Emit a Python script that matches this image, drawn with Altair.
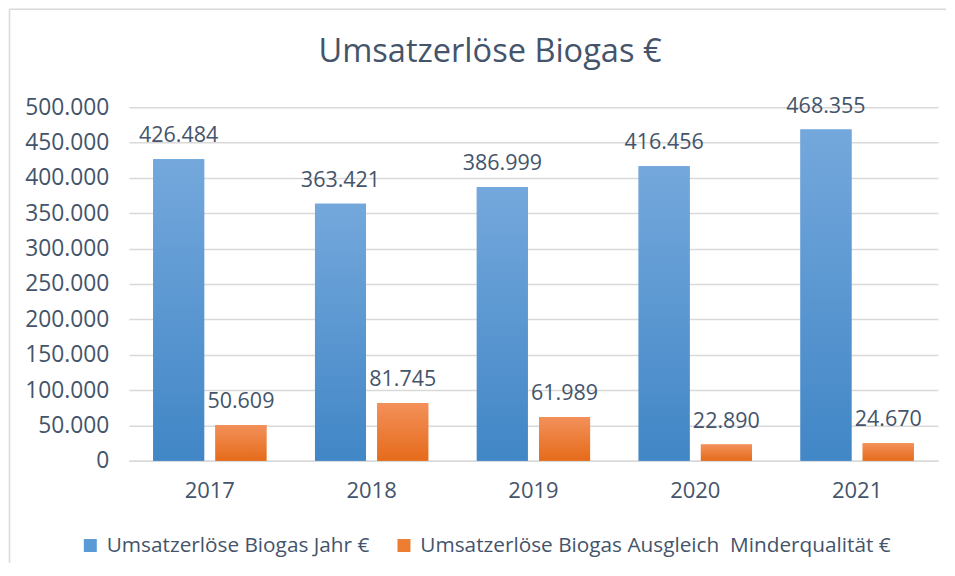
import altair as alt
import pandas as pd

title_text = "Umsatzerlöse Biogas €"
years = ["2017", "2018", "2019", "2020", "2021"]
series_names = [
    "Umsatzerlöse Biogas Jahr €",
    "Umsatzerlöse Biogas Ausgleich\u00a0 Minderqualität €",
]
jahr = [426484, 363421, 386999, 416456, 468355]
ausgleich = [50609, 81745, 61989, 22890, 24670]
y_ticks = list(range(0, 500001, 50000))

rows = []
for i, y in enumerate(years):
    rows.append({"year": y, "series": series_names[0], "value": jahr[i]})
    rows.append({"year": y, "series": series_names[1], "value": ausgleich[i]})
df = pd.DataFrame(rows)

TEXT = "#44546a"
FONT = "Open Sans"

blue_grad = {
    "gradient": "linear", "x1": 0, "y1": 0, "x2": 0, "y2": 1,
    "stops": [{"offset": 0, "color": "#74a8dc"}, {"offset": 1, "color": "#4186c6"}],
}
orange_grad = {
    "gradient": "linear", "x1": 0, "y1": 0, "x2": 0, "y2": 1,
    "stops": [{"offset": 0, "color": "#f3905a"}, {"offset": 1, "color": "#e56b1a"}],
}

x_enc = alt.X(
    "year:N", title=None, sort=years,
    scale=alt.Scale(paddingInner=0.3, paddingOuter=0.15),
    axis=alt.Axis(labelAngle=0, labelFontSize=22, labelColor=TEXT, labelPadding=20,
                  ticks=False, domainColor="#d9d9d9", domainWidth=1.5, labelFont=FONT),
)
xoff = alt.XOffset("series:N", sort=series_names,
                   scale=alt.Scale(domain=series_names, paddingInner=0.18, paddingOuter=0))
y_enc = alt.Y(
    "value:Q", title=None,
    scale=alt.Scale(domain=[0, 500000], nice=False),
    axis=alt.Axis(values=y_ticks, format=",.0f", labelFontSize=22.8, labelColor=TEXT,
                  labelPadding=20, ticks=False, domain=False, gridColor="#d9d9d9",
                  gridWidth=1.5, labelFont=FONT),
)

base = alt.Chart(df)

flat = base.mark_bar().encode(
    x=x_enc, xOffset=xoff, y=y_enc,
    color=alt.Color(
        "series:N", sort=series_names,
        scale=alt.Scale(domain=series_names, range=["#5b9bd5", "#ed7d31"]),
        legend=alt.Legend(
            title=None, orient="none", legendX=-49, legendY=428, direction="horizontal",
            symbolType="square", symbolSize=169, symbolStrokeWidth=0,
            labelFontSize=20.8, labelColor=TEXT, labelFont=FONT, labelLimit=900,
            labelOffset=6, columnPadding=24,
        ),
    ),
)

grad_blue = base.transform_filter(alt.datum.series == series_names[0]).mark_bar(
    fill=blue_grad).encode(x=x_enc, xOffset=xoff, y=y_enc)
grad_orange = base.transform_filter(alt.datum.series == series_names[1]).mark_bar(
    fill=orange_grad).encode(x=x_enc, xOffset=xoff, y=y_enc)

labels = base.mark_text(dy=-17, baseline="alphabetic", fontSize=21.5, color=TEXT,
                        font=FONT).encode(
    x=x_enc, xOffset=xoff, y=y_enc, text=alt.Text("value:Q", format=",.0f"))

single_df = pd.DataFrame({"t": [title_text]})
title_mark = alt.Chart(single_df).mark_text(
    fontSize=32.6, color=TEXT, font=FONT, align="center", baseline="alphabetic"
).encode(x=alt.value(361.5), y=alt.value(-45), text="t:N")

left_rule = alt.Chart(single_df).mark_rule(
    color="#d9d9d9", strokeWidth=1.5, orient="vertical"
).encode(x=alt.value(-119.5), x2=alt.value(-119.5), y=alt.value(-98), y2=alt.value(456))
top_rule = alt.Chart(single_df).mark_rule(
    color="#d9d9d9", strokeWidth=1.5, orient="horizontal"
).encode(x=alt.value(-119.5), x2=alt.value(818), y=alt.value(-98), y2=alt.value(-98))

chart = alt.layer(left_rule, top_rule, title_mark, flat, grad_blue, grad_orange,
                  labels).properties(
    width=810, height=354,
    padding={"left": 0, "top": 0, "right": 0, "bottom": 0},
    background="white",
).configure(
    locale={"number": {"decimal": ",", "thousands": ".", "grouping": [3],
                       "currency": ["", " €"]}},
    font=FONT,
).configure_view(stroke=None, strokeWidth=0)

chart.save("out.html", embed_options={"renderer": "svg", "actions": False})
